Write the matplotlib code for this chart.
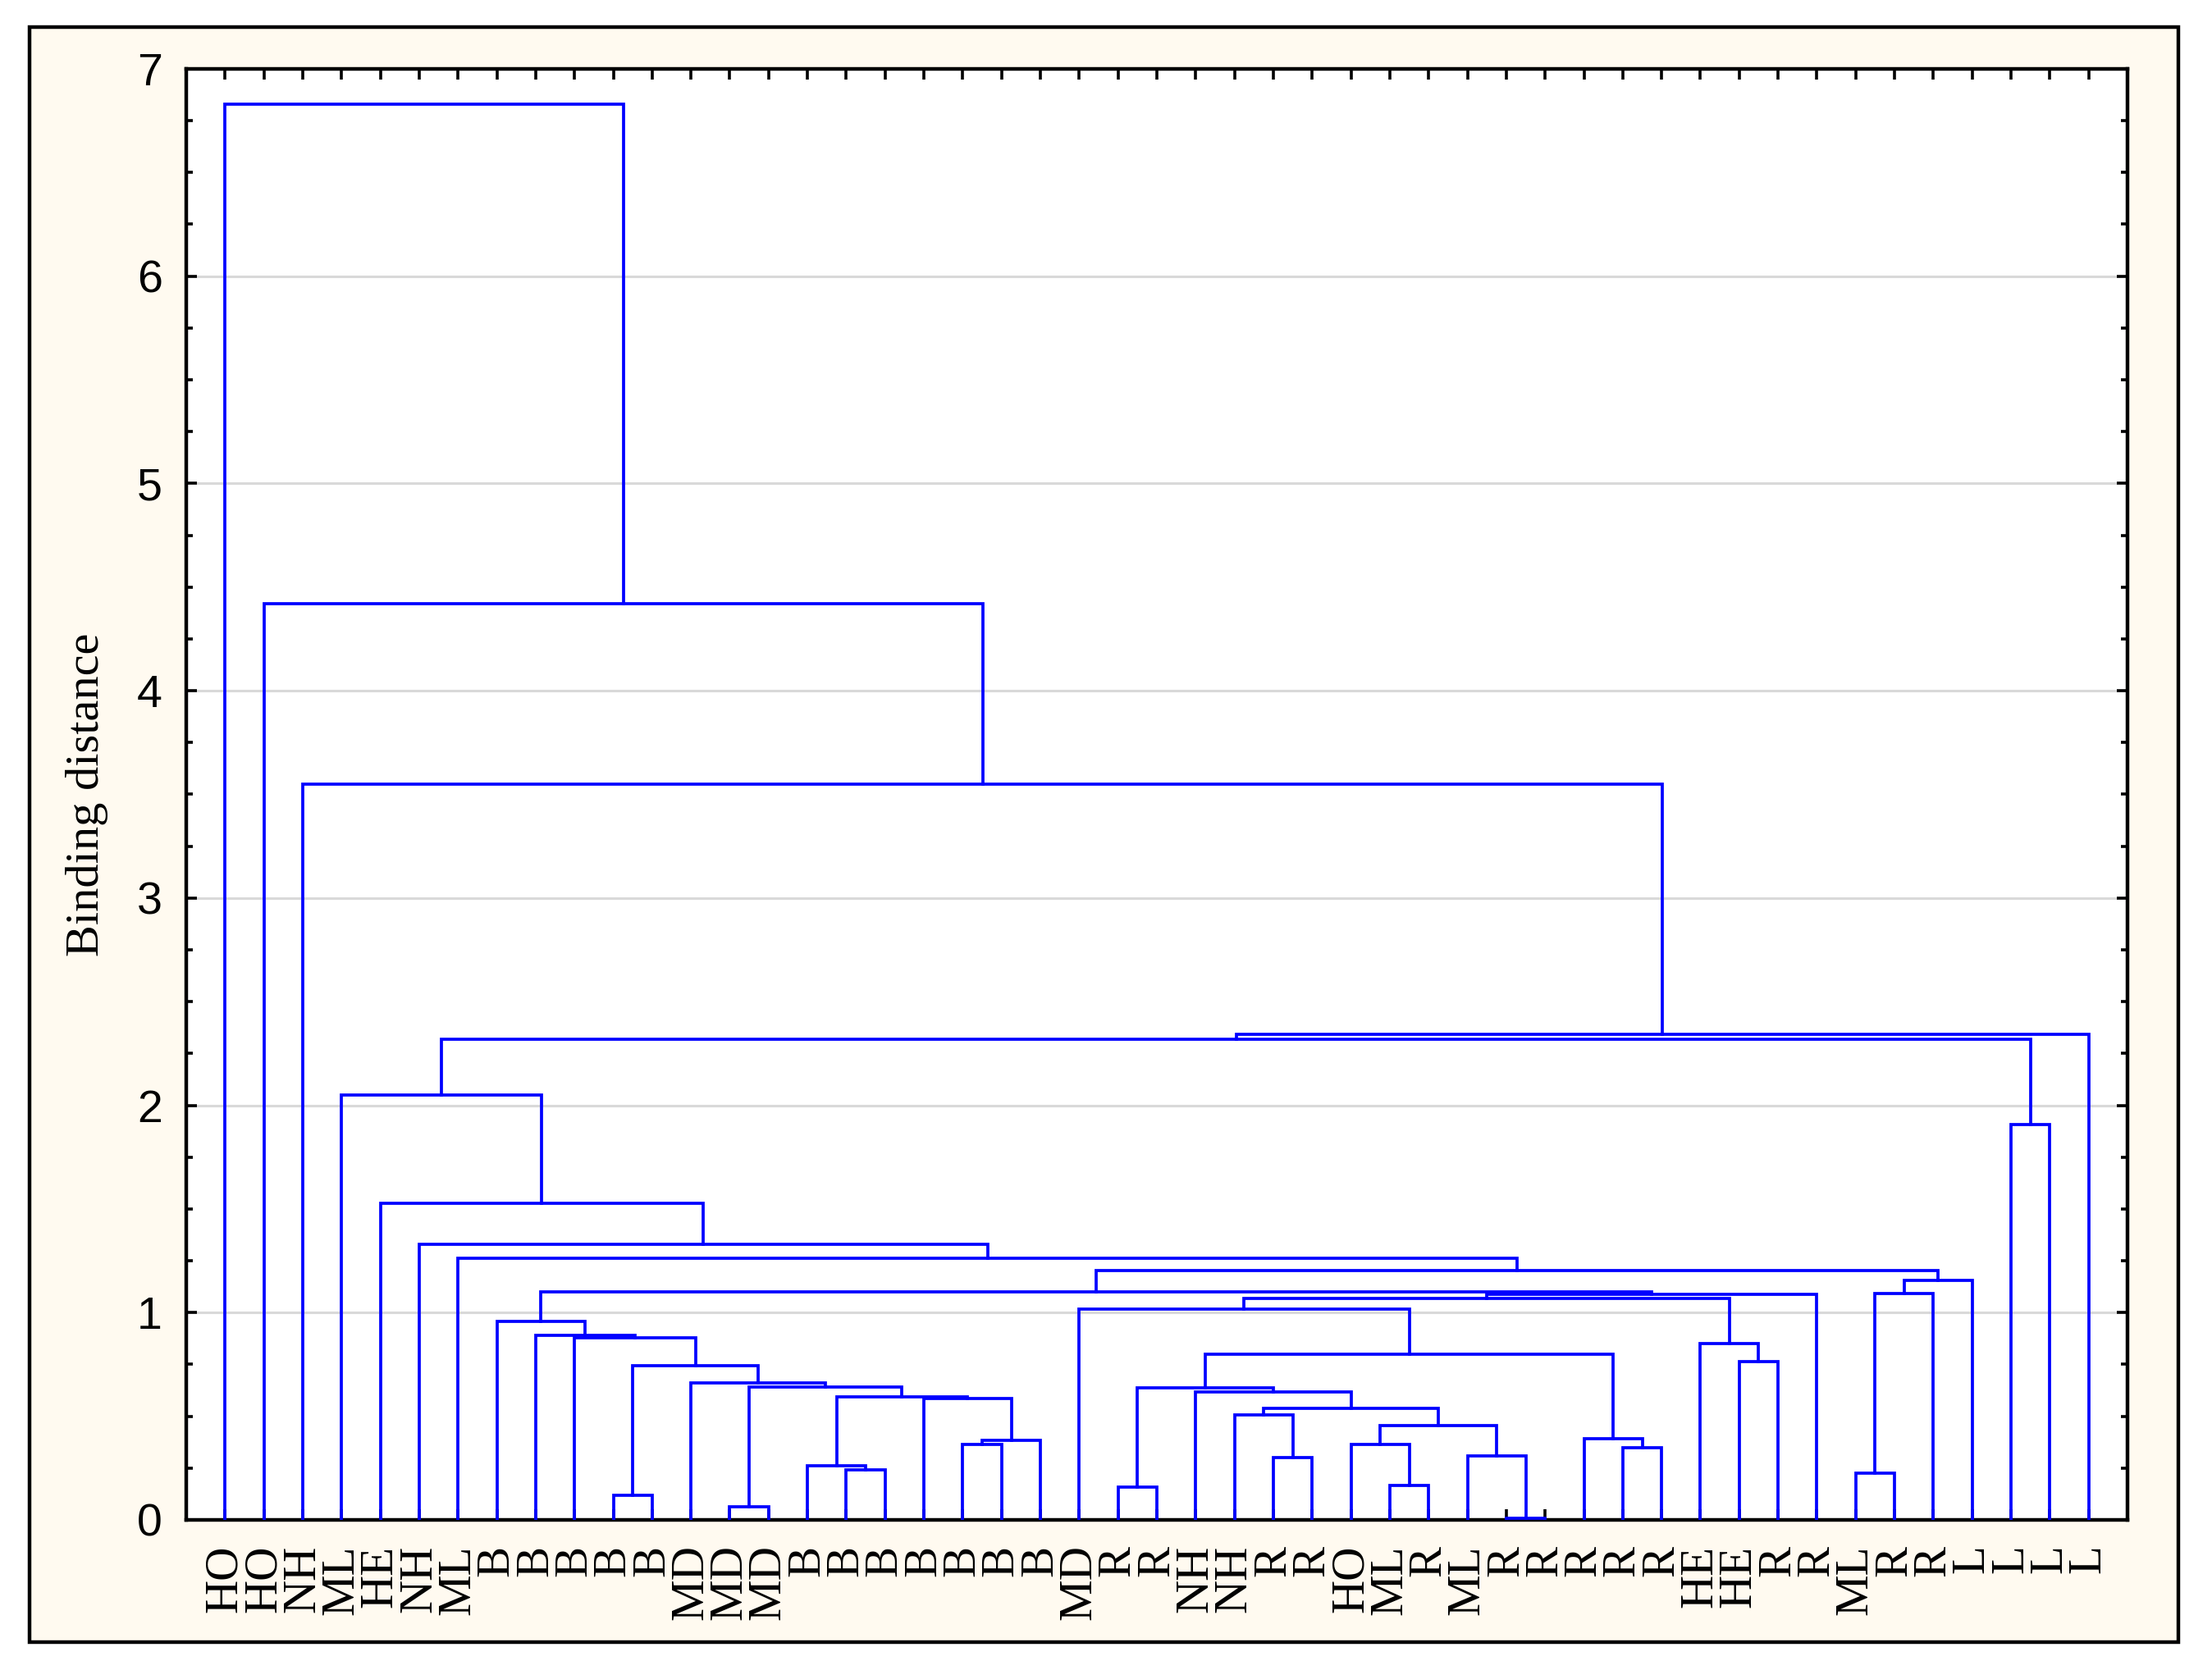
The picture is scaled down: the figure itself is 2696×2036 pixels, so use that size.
import matplotlib
matplotlib.use('Agg')
import matplotlib.pyplot as plt
from matplotlib.patches import Rectangle
from matplotlib.ticker import MultipleLocator

leaf_labels = ["HO", "HO", "NH", "ML", "HE", "NH", "ML", "B", "B", "B", "B", "B",
               "MD", "MD", "MD", "B", "B", "B", "B", "B", "B", "B", "MD", "R", "R",
               "NH", "NH", "R", "R", "HO", "ML", "R", "ML", "R", "R", "R", "R", "R",
               "HE", "HE", "R", "R", "ML", "R", "R", "L", "L", "L", "L"]

# joins: children are leaf indices (0..48) or earlier joins (49 + row)
merge_left = [33, 13, 10, 23, 30, 42, 16, 15, 27, 32, 36, 29, 19, 61, 35, 60,
              26, 65, 18, 56, 25, 52, 50, 12, 51, 39, 70, 38, 9, 8, 7, 22,
              80, 81, 54, 79, 83, 84, 6, 5, 4, 46, 3, 91, 92, 2, 1, 0]
merge_right = [34, 14, 11, 24, 31, 43, 17, 55, 28, 49, 37, 53, 20, 21, 59, 58,
               57, 64, 62, 67, 66, 69, 68, 71, 72, 40, 63, 74, 73, 77, 78, 75,
               76, 41, 44, 82, 45, 85, 86, 87, 88, 47, 89, 90, 48, 93, 94, 95]
merge_height = [0.006, 0.065, 0.118, 0.157, 0.167, 0.227, 0.243, 0.262, 0.30,
                0.309, 0.348, 0.364, 0.365, 0.384, 0.392, 0.456, 0.506, 0.539,
                0.586, 0.593, 0.619, 0.638, 0.641, 0.661, 0.744, 0.764, 0.80,
                0.849, 0.878, 0.889, 0.957, 1.017, 1.067, 1.087, 1.091, 1.101,
                1.155, 1.201, 1.261, 1.328, 1.529, 1.907, 2.05, 2.318, 2.343,
                3.55, 4.42, 6.83]

fig = plt.figure(figsize=(13.48, 10.18), dpi=200, facecolor='white')

# beige panel with black frame behind the plot
fig.add_artist(Rectangle((0.0134, 0.0167), 0.9714, 0.9671, transform=fig.transFigure,
                         facecolor='#fffaf0', edgecolor='black', linewidth=1.6, zorder=-1))

ax = fig.add_axes([0.0842, 0.0899, 0.8776, 0.8689])
ax.set_facecolor('white')

n_leaves = len(leaf_labels)
node_x = list(range(1, n_leaves + 1))
node_y = [0.0] * n_leaves
for a, b, h in zip(merge_left, merge_right, merge_height):
    xa, xb = node_x[a], node_x[b]
    ax.plot([xa, xa, xb, xb], [node_y[a], h, h, node_y[b]],
            color='#0000ff', linewidth=1.35, solid_joinstyle='miter', zorder=3)
    node_x.append((xa + xb) / 2)
    node_y.append(h)

ax.set_xlim(0, n_leaves + 1)
ax.set_ylim(0, 7)

ax.set_xticks(range(1, n_leaves + 1))
ax.set_xticklabels(leaf_labels, rotation=90, fontfamily='Liberation Serif', fontsize=20.5)
ax.tick_params(axis='x', which='major', direction='in', top=True, bottom=True,
               length=4.7, width=1.3, pad=11)

ax.yaxis.set_major_locator(MultipleLocator(1))
ax.yaxis.set_minor_locator(MultipleLocator(0.25))
ax.tick_params(axis='y', which='both', direction='in', left=True, right=True, width=1.3)
ax.tick_params(axis='y', which='major', length=4.7, pad=10.5, labelsize=20)
ax.tick_params(axis='y', which='minor', length=2.9)
for lbl in ax.get_yticklabels():
    lbl.set_fontfamily('Liberation Sans')

ax.yaxis.grid(True, which='major', color='#d9d9d9', linewidth=1.1)
ax.set_axisbelow(True)

for sp in ax.spines.values():
    sp.set_linewidth(1.6)
    sp.set_color('black')

ax.set_ylabel('Binding distance', fontfamily='Liberation Serif', fontsize=21)
ax.yaxis.set_label_coords(-0.040, 0.5)

fig.savefig('out.png', dpi=200, facecolor='white')
